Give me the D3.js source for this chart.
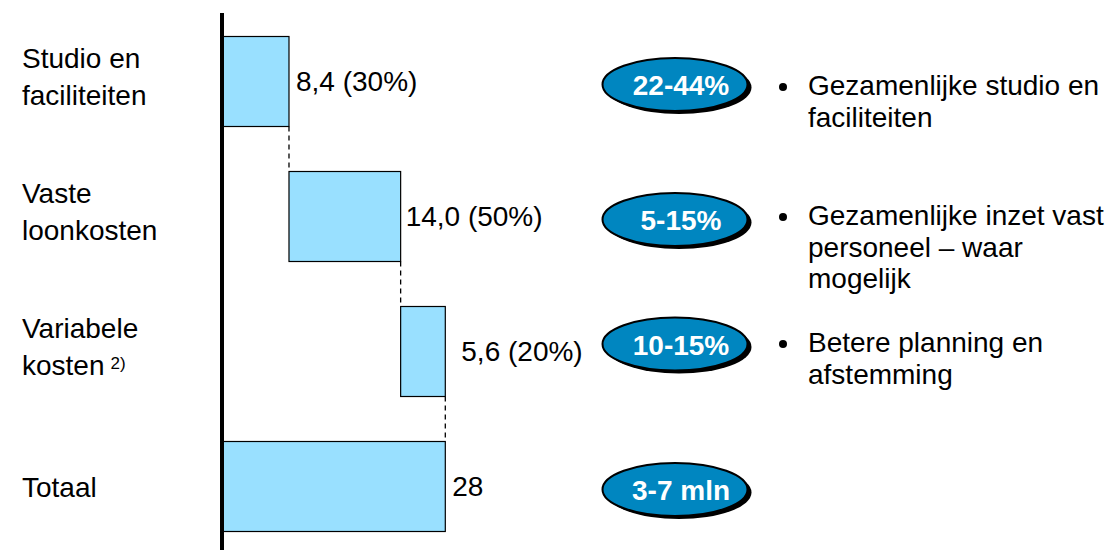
<!DOCTYPE html>
<html>
<head>
<meta charset="utf-8">
<script src="https://cdn.jsdelivr.net/npm/d3@7"></script>
<style>
  html, body { margin: 0; padding: 0; background: #fff; }
  svg { display: block; font-family: "Liberation Sans", Arial, sans-serif; }
</style>
</head>
<body>
<svg id="chart" width="1118" height="550"></svg>
<script>
// ---- data ----
const categories = ["Studio en faciliteiten", "Vaste loonkosten", "Variabele kosten", "Totaal"];
const categoryLines = [["Studio en", "faciliteiten"], ["Vaste", "loonkosten"], ["Variabele", "kosten"], ["Totaal"]];
const footnotes = ["", "", "2)", ""];
const values = [8.4, 14.0, 5.6, 28];
const isTotal = [false, false, false, true];
const valueLabels = ["8,4 (30%)", "14,0 (50%)", "5,6 (20%)", "28"];
const savingsLabels = ["22-44%", "5-15%", "10-15%", "3-7 mln"];
const bulletLines = [
  ["Gezamenlijke studio en", "faciliteiten"],
  ["Gezamenlijke inzet vast", "personeel – waar", "mogelijk"],
  ["Betere planning en", "afstemming"],
  []
];

// ---- layout ----
const W = 1118, H = 550;
const svg = d3.select("#chart");
const barFill = "#99e0ff";
const ovalFill = "#0086c0";
const fontSize = 28;

// cumulative waterfall segments
let run = 0;
const rows = categories.map((c, i) => {
  let start, end;
  if (isTotal[i]) { start = 0; end = values[i]; }
  else { start = run; end = run + values[i]; run = end; }
  return { i, cat: c, start, end, value: values[i] };
});

const x = d3.scaleLinear().domain([0, 28]).range([222, 445.3]);
const y = d3.scaleBand().domain(categories).range([14, 554]).paddingInner(1 / 3).paddingOuter(1 / 6);
const bw = y.bandwidth();
const cy = c => y(c) + bw / 2;

// axis (vertical thick line)
const axis = svg.append("g")
  .attr("transform", `translate(${x(0)},0)`)
  .call(d3.axisLeft(y).tickSize(0).tickSizeOuter(0).tickFormat(""));
axis.select(".domain").attr("stroke", "#000").attr("stroke-width", 4)
  .attr("d", `M0,13V${H}`);

// connectors
svg.append("g").selectAll("line")
  .data(rows.slice(0, rows.length - 1))
  .join("line")
  .attr("x1", d => x(d.end)).attr("x2", d => x(d.end))
  .attr("y1", d => y(d.cat) + bw)
  .attr("y2", d => y(categories[d.i + 1]))
  .attr("stroke", "#000").attr("stroke-width", 1.3)
  .attr("stroke-dasharray", "5,4");

// bars
svg.append("g").selectAll("rect")
  .data(rows)
  .join("rect")
  .attr("x", d => x(d.start))
  .attr("y", d => y(d.cat))
  .attr("width", d => x(d.end) - x(d.start))
  .attr("height", bw)
  .attr("fill", barFill)
  .attr("stroke", "#000").attr("stroke-width", 1.2);

// redraw axis line over bars
svg.append("line").attr("x1", x(0)).attr("x2", x(0)).attr("y1", 13).attr("y2", H)
  .attr("stroke", "#000").attr("stroke-width", 4);

// value labels
const labelGap = [7, 5, 16, 7];
svg.append("g").selectAll("text")
  .data(rows)
  .join("text")
  .attr("x", (d, i) => x(d.end) + labelGap[i])
  .attr("y", d => cy(d.cat) + 9.5)
  .attr("font-size", fontSize)
  .attr("fill", "#000")
  .text((d, i) => valueLabels[i]);

// category labels
const catG = svg.append("g");
rows.forEach((d, i) => {
  const lines = categoryLines[i];
  const t = catG.append("text")
    .attr("x", 22)
    .attr("font-size", fontSize)
    .attr("fill", "#000");
  if (lines.length === 1) {
    t.attr("y", cy(d.cat) + 10).text(lines[0]);
  } else {
    t.attr("y", cy(d.cat) - 13.5);
    lines.forEach((ln, k) => {
      t.append("tspan").attr("x", 22).attr("dy", k === 0 ? 0 : 36.5).text(ln);
    });
    if (footnotes[i]) {
      t.append("tspan").attr("dx", 6).attr("dy", -6).attr("font-size", 17).text(footnotes[i]);
    }
  }
});

// savings ovals
const ovalCx = 675, ovalRx = 72.5, ovalRy = 26.5;
const ovalNudge = [3, 3, -7.5, 3];
const ovalG = svg.append("g");
rows.forEach((d, i) => {
  const oy = cy(d.cat) + ovalNudge[i];
  ovalG.append("ellipse").attr("cx", ovalCx + 4).attr("cy", oy + 3)
    .attr("rx", ovalRx).attr("ry", ovalRy).attr("fill", "#000");
  ovalG.append("ellipse").attr("cx", ovalCx).attr("cy", oy)
    .attr("rx", ovalRx).attr("ry", ovalRy).attr("fill", ovalFill)
    .attr("stroke", "#000").attr("stroke-width", 2);
  ovalG.append("text").attr("x", ovalCx + 6).attr("y", oy + 10.5)
    .attr("text-anchor", "middle").attr("font-size", 28).attr("font-weight", "bold")
    .attr("fill", "#fff").text(savingsLabels[i]);
});

// bullets
const bulletNudge = [13.5, 8.5, 0.5, 0];
const bulG = svg.append("g");
rows.forEach((d, i) => {
  const lines = bulletLines[i];
  if (!lines.length) return;
  const by = cy(d.cat) + bulletNudge[i];
  bulG.append("circle").attr("cx", 783).attr("cy", by - 8).attr("r", 4).attr("fill", "#000");
  const t = bulG.append("text").attr("x", 808).attr("y", by)
    .attr("font-size", fontSize).attr("fill", "#000");
  lines.forEach((ln, k) => {
    t.append("tspan").attr("x", 808).attr("dy", k === 0 ? 0 : 31.5).text(ln);
  });
});
</script>
</body>
</html>
